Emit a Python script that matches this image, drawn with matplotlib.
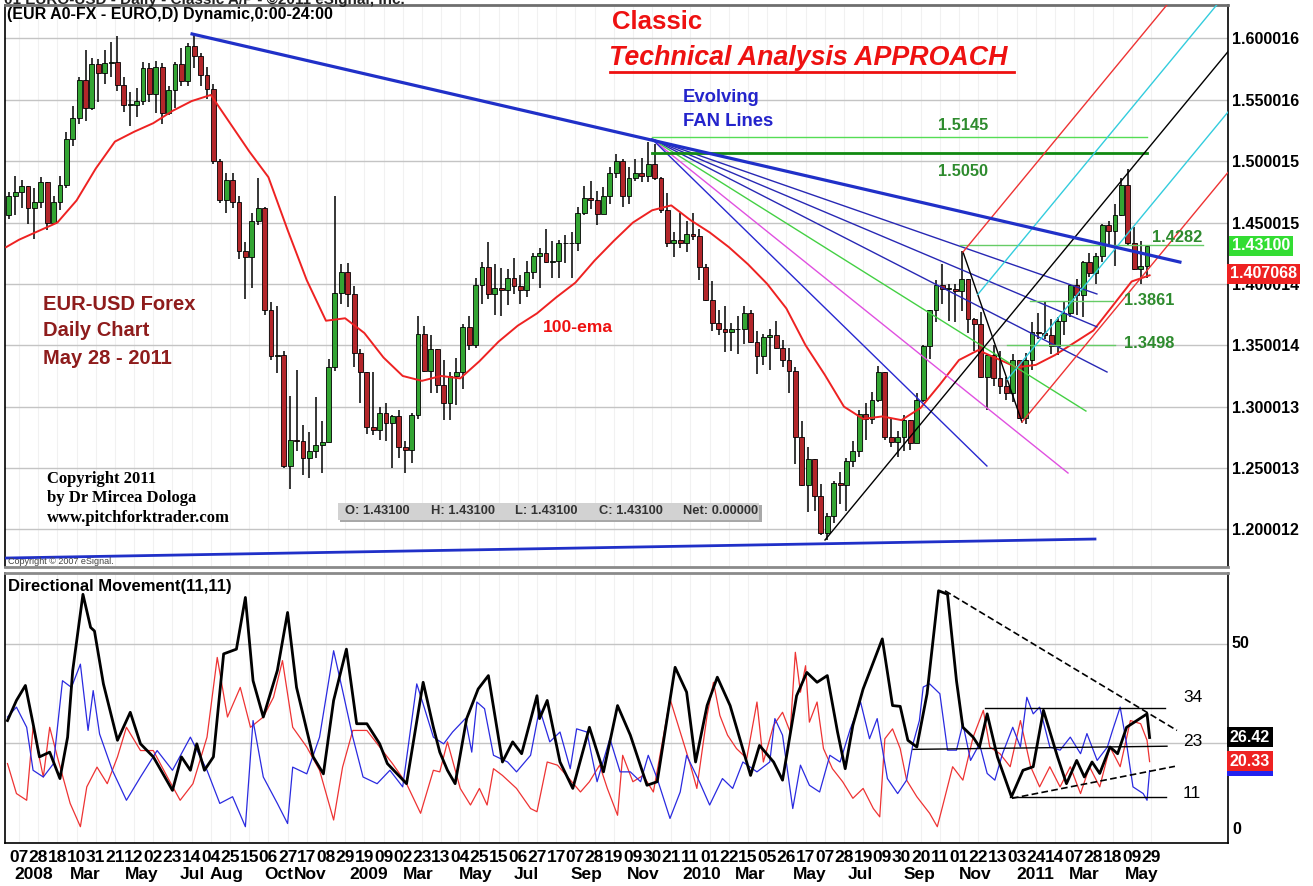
import matplotlib
matplotlib.use("Agg")
import matplotlib.pyplot as plt
import matplotlib.transforms as mtransforms
from matplotlib.patches import Rectangle
from matplotlib.lines import Line2D
import pandas as pd

plt.rcParams['font.family'] = ['Liberation Sans', 'DejaVu Sans']

# ---------------------------------------------------------------- DATA
# weekly EUR/USD bars (week ending Fridays, 28 Dec 2007 ... 27 May 2011)
first_open = 1.4560
week_close = [
    1.4720,
    1.4745, 1.4800, 1.4620, 1.4670, 1.4830, 1.4500, 1.4670, 1.4810, 1.5180,
    1.5350, 1.5660, 1.5430, 1.5790, 1.5720, 1.5800, 1.5810, 1.5620, 1.5460,
    1.5460, 1.5490, 1.5760, 1.5550, 1.5770, 1.5390, 1.5580, 1.5790, 1.5650,
    1.5940, 1.5860, 1.5700, 1.5590, 1.5000, 1.4680, 1.4850, 1.4670, 1.4270,
    1.4220, 1.4510, 1.4620, 1.3790, 1.3410, 1.3420, 1.2520, 1.2730, 1.2720,
    1.2580, 1.2640, 1.2690, 1.2710, 1.3320, 1.3930, 1.4100,
    1.3920, 1.3440, 1.3280, 1.2830, 1.2810, 1.2950, 1.2870, 1.2920, 1.2670,
    1.2650, 1.2930, 1.3590, 1.3290, 1.3470, 1.3180, 1.3030, 1.3250, 1.3280,
    1.3650, 1.3500, 1.3990, 1.4140, 1.3920, 1.3970, 1.3950, 1.4050, 1.3980,
    1.3950, 1.4100, 1.4230, 1.4250, 1.4180, 1.4190, 1.4330, 1.4330, 1.4330,
    1.4580, 1.4700, 1.4680, 1.4570, 1.4720, 1.4900, 1.5000, 1.4720, 1.4860,
    1.4900, 1.4880, 1.4980, 1.4860, 1.4600, 1.4330, 1.4360,
    1.4330, 1.4410, 1.4390, 1.4140, 1.3870, 1.3680, 1.3630, 1.3610, 1.3630,
    1.3630, 1.3760, 1.3530, 1.3410, 1.3570, 1.3580, 1.3480, 1.3380, 1.3290,
    1.2750, 1.2360, 1.2570, 1.2270, 1.1970, 1.2110, 1.2380, 1.2360, 1.2560,
    1.2640, 1.2940, 1.2900, 1.3050, 1.3280, 1.2750, 1.2710, 1.2750, 1.2890,
    1.2700, 1.3050, 1.3490, 1.3790, 1.3990, 1.3960, 1.3960, 1.3940, 1.4040,
    1.3710, 1.3670, 1.3240, 1.3420, 1.3230, 1.3170, 1.3110, 1.3380,
    1.2910, 1.3380, 1.3610, 1.3600, 1.3580, 1.3490, 1.3700, 1.3760, 1.3990,
    1.3910, 1.4180, 1.4090, 1.4230, 1.4480, 1.4430, 1.4560, 1.4810, 1.4330,
    1.4120, 1.4150, 1.4310,
]
week_high = [
    1.4750,
    1.4880, 1.4850, 1.4800, 1.4780, 1.4870, 1.4830, 1.4720, 1.4880, 1.5240,
    1.5450, 1.5690, 1.5904, 1.5840, 1.5830, 1.5910, 1.5970, 1.6019, 1.5690,
    1.5560, 1.5600, 1.5810, 1.5800, 1.5820, 1.5800, 1.5610, 1.5810, 1.5920,
    1.5960, 1.6038, 1.5880, 1.5770, 1.5630, 1.5020, 1.4900, 1.4900, 1.4720,
    1.4340, 1.4580, 1.4867, 1.4630, 1.3850, 1.3820, 1.3450, 1.3090, 1.3296,
    1.2850, 1.2790, 1.3080, 1.2880, 1.3390, 1.4719, 1.4160,
    1.4170, 1.3980, 1.3470, 1.3220, 1.3280, 1.3000, 1.3030, 1.2930, 1.2970,
    1.2720, 1.2950, 1.3738, 1.3660, 1.3580, 1.3470, 1.3380, 1.3280, 1.3400,
    1.3670, 1.3740, 1.4050, 1.4180, 1.4338, 1.4160, 1.4130, 1.4120, 1.4210,
    1.4070, 1.4190, 1.4250, 1.4290, 1.4445, 1.4350, 1.4360, 1.4400, 1.4420,
    1.4630, 1.4800, 1.4840, 1.4760, 1.4790, 1.4950, 1.5061, 1.5020, 1.4950,
    1.5020, 1.5030, 1.5160, 1.5140, 1.4870, 1.4740, 1.4420,
    1.4580, 1.4510, 1.4579, 1.4450, 1.4160, 1.4020, 1.3790, 1.3820, 1.3680,
    1.3740, 1.3820, 1.3790, 1.3620, 1.3590, 1.3630, 1.3694, 1.3540, 1.3480,
    1.3320, 1.2880, 1.2670, 1.2570, 1.2370, 1.2130, 1.2390, 1.2470, 1.2580,
    1.2720, 1.2970, 1.3030, 1.3120, 1.3333, 1.3280, 1.2900, 1.2800, 1.2930,
    1.2800, 1.3110, 1.3500, 1.3790, 1.4030, 1.4160, 1.4000, 1.4000, 1.4270,
    1.4000, 1.3720, 1.3770, 1.3420, 1.3500, 1.3450, 1.3240, 1.3430,
    1.3380, 1.3440, 1.3690, 1.3760, 1.3860, 1.3710, 1.3730, 1.3860, 1.4000,
    1.4040, 1.4190, 1.4250, 1.4250, 1.4490, 1.4510, 1.4650, 1.4860, 1.4940,
    1.4460, 1.4350, 1.4320,
]
week_low = [
    1.4530,
    1.4560, 1.4620, 1.4490, 1.4365, 1.4620, 1.4440, 1.4500, 1.4600, 1.4780,
    1.5120, 1.5300, 1.5330, 1.5420, 1.5480, 1.5630, 1.5690, 1.5570, 1.5400,
    1.5290, 1.5360, 1.5460, 1.5480, 1.5390, 1.5300, 1.5380, 1.5430, 1.5610,
    1.5610, 1.5760, 1.5610, 1.5510, 1.4980, 1.4660, 1.4580, 1.4620, 1.4200,
    1.3880, 1.3970, 1.4480, 1.3750, 1.3380, 1.3270, 1.2500, 1.2330, 1.2640,
    1.2440, 1.2420, 1.2580, 1.2460, 1.2710, 1.3290, 1.3840,
    1.3810, 1.3320, 1.3030, 1.2780, 1.2770, 1.2730, 1.2720, 1.2500, 1.2580,
    1.2457, 1.2540, 1.2900, 1.3280, 1.3110, 1.3110, 1.2890, 1.2890, 1.3010,
    1.3140, 1.3460, 1.3480, 1.3840, 1.3880, 1.3747, 1.3740, 1.3830, 1.3920,
    1.3840, 1.3890, 1.4040, 1.3970, 1.4170, 1.4050, 1.4050, 1.4170, 1.4050,
    1.4270, 1.4560, 1.4610, 1.4483, 1.4580, 1.4650, 1.4860, 1.4630, 1.4650,
    1.4840, 1.4830, 1.4830, 1.4850, 1.4580, 1.4300, 1.4220,
    1.4290, 1.4260, 1.4360, 1.4030, 1.3860, 1.3620, 1.3580, 1.3444, 1.3450,
    1.3430, 1.3510, 1.3520, 1.3267, 1.3340, 1.3300, 1.3470, 1.3320, 1.3110,
    1.2530, 1.2350, 1.2140, 1.2150, 1.1950, 1.1910, 1.2050, 1.2210, 1.2150,
    1.2510, 1.2590, 1.2730, 1.2860, 1.3040, 1.2730, 1.2670, 1.2588, 1.2640,
    1.2650, 1.2700, 1.3040, 1.3390, 1.3690, 1.3840, 1.3700, 1.3690, 1.3780,
    1.3600, 1.3450, 1.3230, 1.2969, 1.3170, 1.3100, 1.3050, 1.3040,
    1.2900, 1.2860, 1.3300, 1.3550, 1.3550, 1.3430, 1.3420, 1.3580, 1.3730,
    1.3750, 1.3730, 1.4060, 1.4000, 1.4180, 1.4300, 1.4150, 1.4550, 1.4310,
    1.4110, 1.4000, 1.4050,
]

# 100-day EMA (day index, value)
ema_day = [-10] + list(range(0, 871, 15)) + [884]
ema_val = [
    1.430, 1.436, 1.443, 1.450, 1.468, 1.494, 1.516, 1.524, 1.531, 1.541,
    1.549, 1.554, 1.531, 1.508, 1.487, 1.444, 1.403, 1.370, 1.372, 1.360,
    1.340, 1.325, 1.321, 1.325, 1.323, 1.337, 1.353, 1.366, 1.376, 1.389,
    1.401, 1.419, 1.435, 1.450, 1.460, 1.464, 1.452, 1.442, 1.430, 1.416,
    1.400, 1.380, 1.350, 1.326, 1.300, 1.290, 1.292, 1.289, 1.299, 1.318,
    1.338, 1.346, 1.339, 1.332, 1.334, 1.342, 1.352, 1.362, 1.382, 1.402,
    1.407,
]

# Directional Movement (11,11): (day index, value)
adx_pts = [(-9, 30.7), (-2, 35.8), (5, 39.6), (11, 29.9), (16, 21.5), (24, 22.7), (32, 16.0),
           (38, 26.5), (42, 43.4), (50, 62.7), (56, 54.3), (59, 53.4), (66, 40.0), (77, 25.7),
           (87, 32.8), (95, 24.8), (105, 21.5), (120, 13.0), (127, 21.5), (134, 18.1), (139, 24.8),
           (145, 18.1), (152, 21.5), (160, 47.6), (170, 48.8), (177, 61.9), (183, 40.8), (191, 31.6),
           (202, 43.4), (210, 58.1), (217, 39.1), (230, 21.5), (238, 17.2), (246, 35.8), (256, 48.8),
           (264, 29.9), (272, 29.9), (282, 24.8), (288, 19.8), (303, 14.7), (316, 40.4), (324, 29.0),
           (329, 22.7), (335, 18.1), (341, 14.7), (350, 31.2), (359, 38.7), (367, 42.1), (378, 20.2),
           (386, 25.3), (393, 22.3), (405, 37.0), (407, 31.2), (413, 35.8), (423, 20.2), (433, 13.5),
           (446, 29.0), (457, 17.7), (468, 34.5), (478, 27.0), (491, 14.3), (499, 15.2), (513, 44.2),
           (522, 37.9), (529, 20.2), (538, 34.5), (546, 41.7), (556, 34.5), (572, 16.8), (579, 24.4),
           (590, 20.2), (597, 15.6), (608, 37.0), (616, 42.9), (624, 40.4), (632, 42.1), (640, 27.8),
           (646, 18.5), (652, 29.5), (660, 38.7), (675, 51.4), (683, 34.5), (689, 34.3), (695, 25.7),
           (702, 24.0), (710, 37.5), (719, 63.6), (726, 62.7), (733, 40.8), (738, 29.0), (746, 26.5),
           (751, 24.0), (757, 32.4), (765, 21.5), (776, 11.4), (785, 18.1), (793, 19.0), (801, 33.3),
           (812, 21.5), (819, 14.7), (827, 20.6), (833, 16.4), (839, 20.2), (845, 17.3), (853, 24.0),
           (859, 22.3), (866, 29.0), (874, 30.7), (882, 32.4), (884, 26.4)]
pdi_pts = [(-9, 31.6), (-2, 34.1), (6, 29.0), (11, 18.1), (19, 16.4), (27, 19.8), (34, 40.8), (41, 39.1),
           (48, 45.0), (54, 28.2), (58, 38.3), (63, 27.3), (73, 18.1), (84, 10.5), (95, 16.4), (108, 23.1),
           (120, 18.1), (134, 26.5), (147, 18.1), (157, 9.7), (167, 11.4), (177, 3.8), (183, 30.7),
           (191, 16.4), (202, 9.7), (210, 4.6), (214, 18.9), (225, 17.2), (235, 26.5), (246, 48.4),
           (253, 38.3), (261, 26.5), (269, 16.4), (280, 14.7), (290, 18.1), (300, 13.9), (311, 40.0),
           (316, 34.9), (324, 26.5), (332, 24.8), (339, 27.8), (349, 31.2), (354, 22.7), (358, 35.4),
           (364, 33.7), (371, 21.9), (382, 20.2), (389, 17.7), (400, 21.9), (407, 33.7), (415, 25.3),
           (423, 27.8), (431, 18.5), (436, 28.6), (444, 27.8), (452, 15.2), (462, 26.1), (470, 17.7),
           (478, 17.7), (486, 15.2), (492, 21.9), (499, 16.0), (509, 5.9), (517, 12.6), (522, 21.9),
           (532, 15.2), (540, 9.3), (550, 16.0), (558, 13.5), (566, 20.2), (577, 17.7), (587, 20.2),
           (591, 31.2), (597, 27.0), (605, 8.4), (611, 19.4), (618, 14.3), (626, 12.6), (634, 21.9),
           (642, 20.2), (650, 28.6), (658, 35.4), (665, 26.1), (671, 31.2), (679, 16.0), (687, 12.2),
           (694, 15.6), (699, 24.8), (704, 30.7), (707, 39.2), (712, 40.0), (720, 37.5), (726, 23.2),
           (733, 23.2), (738, 29.9), (744, 20.6), (751, 24.8), (757, 17.3), (763, 15.6), (769, 22.3),
           (777, 29.0), (783, 24.0), (788, 36.6), (793, 32.4), (798, 34.1), (806, 24.0), (814, 23.2),
           (822, 26.5), (830, 22.3), (835, 27.4), (843, 20.6), (851, 24.0), (855, 28.2), (861, 34.1),
           (866, 24.8), (871, 13.9), (879, 12.2), (882, 10.5), (884, 18.0)]
mdi_pts = [(-9, 19.8), (-2, 12.2), (6, 10.5), (11, 29.0), (19, 16.4), (24, 29.0), (30, 21.5), (40, 9.7),
           (48, 3.8), (53, 13.9), (61, 18.9), (69, 14.7), (77, 21.5), (84, 29.0), (95, 23.1), (105, 23.1),
           (116, 16.4), (126, 10.5), (136, 14.7), (147, 26.5), (155, 46.7), (163, 31.6), (173, 39.1),
           (181, 29.0), (191, 31.6), (199, 36.6), (206, 45.9), (214, 29.0), (225, 24.0), (235, 18.1),
           (246, 5.5), (253, 18.9), (261, 28.2), (272, 28.2), (282, 24.0), (292, 19.8), (303, 14.7),
           (314, 7.2), (324, 18.1), (329, 17.7), (335, 25.3), (345, 13.5), (353, 9.3), (360, 13.5),
           (366, 9.3), (371, 18.5), (378, 16.8), (389, 13.5), (400, 8.4), (405, 7.6), (413, 20.2),
           (421, 19.4), (428, 16.8), (439, 12.6), (446, 15.2), (454, 19.4), (460, 13.5), (468, 6.7),
           (472, 21.9), (480, 15.2), (488, 16.8), (496, 12.6), (504, 27.0), (509, 36.2), (517, 27.8),
           (525, 19.4), (530, 13.5), (538, 32.0), (543, 40.4), (548, 32.0), (554, 27.0), (561, 23.6),
           (569, 21.1), (577, 35.4), (582, 20.2), (590, 29.5), (597, 32.8), (603, 27.8), (607, 48.0),
           (611, 37.9), (615, 44.6), (618, 30.3), (624, 35.4), (629, 23.6), (636, 18.5), (644, 15.2),
           (652, 11.0), (660, 13.5), (668, 8.4), (673, 6.3), (677, 26.1), (683, 28.6), (689, 23.6),
           (694, 15.6), (702, 11.4), (712, 7.2), (718, 3.8), (722, 8.8), (730, 19.0), (738, 15.6),
           (746, 26.5), (754, 33.3), (759, 24.0), (767, 22.3), (775, 19.0), (783, 30.7), (791, 19.0),
           (798, 13.9), (806, 19.0), (814, 13.9), (822, 19.0), (830, 12.2), (837, 19.0), (845, 13.9),
           (853, 24.0), (861, 19.0), (869, 30.7), (877, 29.9), (882, 25.7), (884, 20.3)]

price_ticks = [1.600016, 1.550016, 1.500015, 1.450015, 1.400014, 1.350014, 1.300013, 1.250013, 1.200012]
price_tick_labels = ["1.600016", "1.550016", "1.500015", "1.450015", "1.400014",
                     "1.350014", "1.300013", "1.250013", "1.200012"]
day_labels = ["07", "28", "18", "10", "31", "21", "12", "02", "23", "14", "04", "25", "15", "06", "27",
              "17", "08", "29", "19", "09", "02", "23", "13", "04", "25", "15", "06", "27", "17", "07",
              "28", "19", "09", "30", "21", "11", "01", "22", "15", "05", "26", "17", "07", "28", "19",
              "09", "30", "20", "11", "01", "22", "13", "03", "24", "14", "07", "28", "18", "09", "29"]
month_labels = ["2008", "Mar", "May", "Jul", "Aug", "Oct", "Nov", "2009", "Mar", "May", "Jul", "Sep",
                "Nov", "2010", "Mar", "May", "Jul", "Sep", "Nov", "2011", "Mar", "May"]
month_starts = ["2008-01", "2008-03", "2008-05", "2008-07", "2008-08", "2008-10", "2008-11",
                "2009-01", "2009-03", "2009-05", "2009-07", "2009-09", "2009-11",
                "2010-01", "2010-03", "2010-05", "2010-07", "2010-09", "2010-11",
                "2011-01", "2011-03", "2011-05"]

# drawn analysis lines: anchors as (day index, price)
trend_top = [(135.3, 1.6037), (907.7, 1.4178)]
trend_bottom = [(-11.0, 1.1766), (841.3, 1.1921)]
fan_origin = (494.9, 1.5181)
fan_ends = [(842.8, 1.3918), (842.8, 1.3650), (850.7, 1.3282),
            (834.2, 1.2964), (820.2, 1.2459), (756.8, 1.2516)]
pf_A = (630.2, 1.1913)
pf_B = (738.1, 1.4260)
pf_C = (784.2, 1.2874)
level_lines = [(494.9, 881.8, 1.5200), (494.9, 881.8, 1.5064),
               (735.7, 925.7, 1.4317), (790.5, 855.4, 1.3863), (772.5, 857.0, 1.3502)]
level_texts = ["1.5145", "1.5050", "1.4282", "1.3861", "1.3498"]

# lines drawn in the DMI pane (day index, value)
dmi_resist = [(724.0, 63.6), (905.4, 28.2)]
dmi_support = [(776.4, 11.0), (903.8, 19.1)]
dmi_levels = [((755.3, 33.8), (896.0, 33.8)), ((699.0, 23.4), (897.6, 24.2)),
              ((774.8, 11.3), (896.8, 11.3))]

last_close = "1.43100"
last_ema = "1.407068"
last_adx = "26.42"
last_mdi = "20.33"

# ---------------------------------------------------------------- LAYOUT
W, H = 1313, 886
fig = plt.figure(figsize=(W / 100, H / 100), dpi=100)
fig.patch.set_facecolor('white')
L, R = 5, 1228
ax = fig.add_axes([L / W, 1 - 567 / H, (R - L) / W, (567 - 5) / H])
ax2 = fig.add_axes([L / W, 1 - 843 / H, (R - L) / W, (843 - 573) / H])
XMIN, XMAX = -10.95, 945.3
for a in (ax, ax2):
    a.set_xlim(XMIN, XMAX)
    a.set_facecolor('white')
ax.set_ylim(1.1693, 1.6273)
ax2.set_ylim(-0.33, 68.1)


def ftext(px, py, s, **kw):
    kw.setdefault('va', 'center')
    return fig.text(px / W, 1 - py / H, s, **kw)


# spines
for a in (ax, ax2):
    a.spines['left'].set_color('black')
    a.spines['right'].set_color('black')
    a.spines['left'].set_linewidth(1.2)
    a.spines['right'].set_linewidth(1.2)
ax.spines['top'].set_color('#6e6e6e'); ax.spines['top'].set_linewidth(2)
ax.spines['bottom'].set_color('#8a8a8a'); ax.spines['bottom'].set_linewidth(2)
ax2.spines['top'].set_color('#8a8a8a'); ax2.spines['top'].set_linewidth(2)
ax2.spines['bottom'].set_color('black'); ax2.spines['bottom'].set_linewidth(1.2)

# grids
tick_days = [15 * k for k in range(len(day_labels))]
for d in tick_days:
    ax.axvline(d, color='#f1f1f1', lw=0.8, zorder=0)
    ax2.axvline(d, color='#f1f1f1', lw=0.8, zorder=0)
for p in price_ticks:
    ax.axhline(p, color='#c4c4c4', lw=1.0, zorder=1)
for v in (50, 25):
    ax2.axhline(v, color='#c4c4c4', lw=1.0, zorder=1)

# price axis
ax.yaxis.tick_right()
ax.set_yticks(price_ticks)
ax.set_yticklabels(price_tick_labels)
ax.tick_params(axis='y', length=0, pad=3, labelsize=11.5)
for t in ax.get_yticklabels():
    t.set_fontweight('bold')
ax.set_xticks([])
ax2.set_yticks([])

# date axis
ax2.set_xticks(tick_days)
ax2.set_xticklabels(day_labels)
ax2.tick_params(axis='x', length=0, pad=5, labelsize=12.5)
for t in ax2.get_xticklabels():
    t.set_fontweight('bold')
bdays = pd.bdate_range('2007-12-24', '2011-07-29')
day_index = {d: i - 10 for i, d in enumerate(bdays)}
trans2 = mtransforms.blended_transform_factory(ax2.transData, ax2.transAxes)
for lab, ms in zip(month_labels, month_starts):
    first = bdays[bdays >= pd.Timestamp(ms + '-01')][0]
    ax2.text(day_index[first], -0.118, lab, transform=trans2, ha='left', va='center',
             fontsize=12.5, fontweight='bold')

# ---------------------------------------------------------------- CANDLES
up_col, dn_col = '#33a533', '#b3262a'
opens = [first_open] + week_close[:-1]
for w, c in enumerate(week_close):
    o = opens[w]
    hi = max(week_high[w], o, c)
    lo = min(week_low[w], o, c)
    x = 5 * w - 8
    ax.vlines(x, lo, hi, color='black', lw=1.1, zorder=3)
    ax.add_patch(Rectangle((x - 1.9, min(o, c)), 3.8, max(abs(c - o), 0.0006),
                           fc=up_col if c >= o else dn_col, ec='black', lw=0.6, zorder=4))

ax.plot(ema_day, ema_val, color='#ee2222', lw=1.4, zorder=5)

# ---------------------------------------------------------------- ANALYSIS LINES
ax.plot(*zip(*trend_top), color='#2030c8', lw=2.3, zorder=7)
ax.plot(*zip(*trend_bottom), color='#2030c8', lw=2.0, zorder=7)
fan_colors = ['#2828b4', '#2828b4', '#2828b4', '#44d044', '#e050e0', '#2828d0']
for (ex, ey), col in zip(fan_ends, fan_colors):
    ax.plot([fan_origin[0], ex], [fan_origin[1], ey], color=col, lw=1.0, zorder=6)

for (x0, x1, yv), lw, col in zip(level_lines, [1.0, 2.0, 1.0, 1.0, 1.0],
                                 ['#55dd55', '#118a11', '#66cc66', '#66cc66', '#66cc66']):
    ax.plot([x0, x1], [yv, yv], color=col, lw=lw, zorder=6)

# Andrews pitchfork
mx, my = (pf_B[0] + pf_C[0]) / 2, (pf_B[1] + pf_C[1]) / 2
slope = (my - pf_A[1]) / (mx - pf_A[0])
xe = XMAX + 60


def ray(p, col, lw=1.0):
    ax.plot([p[0], xe], [p[1], p[1] + slope * (xe - p[0])], color=col, lw=lw, zorder=6)


ray(pf_A, 'black')
ax.plot([pf_B[0], pf_C[0]], [pf_B[1], pf_C[1]], color='black', lw=1.0, zorder=6)
ray(pf_B, '#ee3333')
ray(pf_C, '#ee3333')
q1 = (pf_B[0] + 0.25 * (pf_C[0] - pf_B[0]), pf_B[1] + 0.25 * (pf_C[1] - pf_B[1]))
q3 = (pf_B[0] + 0.75 * (pf_C[0] - pf_B[0]), pf_B[1] + 0.75 * (pf_C[1] - pf_B[1]))
ray(q1, '#33ccdd')
ray(q3, '#33ccdd')

# ---------------------------------------------------------------- DMI
ax2.plot(*zip(*mdi_pts), color='#ee3333', lw=0.9, zorder=3)
ax2.plot(*zip(*pdi_pts), color='#2a2ae0', lw=0.9, zorder=3)
ax2.plot(*zip(*adx_pts), color='black', lw=2.0, zorder=4)
ax2.plot(*zip(*dmi_resist), color='black', lw=1.2, ls=(0, (4, 2)), zorder=5)
ax2.plot(*zip(*dmi_support), color='black', lw=1.2, ls=(0, (4, 2)), zorder=5)
for p0, p1 in dmi_levels:
    ax2.plot([p0[0], p1[0]], [p0[1], p1[1]], color='black', lw=1.0, zorder=5)

# ---------------------------------------------------------------- TEXTS
ftext(4, 0, "01 EURO-USD - Daily - Classic A/P - \u00a92011 eSignal, Inc.", fontsize=11,
      fontweight='bold', color='#222222')
ftext(7, 15, "(EUR A0-FX - EURO,D) Dynamic,0:00-24:00", fontsize=11.5, fontweight='bold')
ftext(612, 22, "Classic", fontsize=18.5, fontweight='bold', color='#ee1111')
ftext(609, 58, "Technical Analysis APPROACH", fontsize=19.3, fontweight='bold', style='italic',
      color='#ee1111')
fig.add_artist(Line2D([610 / W, 1014 / W], [1 - 72 / H, 1 - 72 / H], color='#ee1111', lw=2))
ftext(683, 98, "Evolving", fontsize=13.3, fontweight='bold', color='#2424cc')
ftext(683, 121, "FAN Lines", fontsize=13.3, fontweight='bold', color='#2424cc')
for s, (px, py) in zip(level_texts, [(938, 125), (938, 171), (1152, 237), (1124, 300), (1124, 344)]):
    ftext(px, py, s, fontsize=11.8, fontweight='bold', color='#2e8b2e')
for i, s in enumerate(["EUR-USD Forex", "Daily Chart", "May 28 - 2011"]):
    ftext(43, 304 + 27 * i, s, fontsize=14.5, fontweight='bold', color='#8e1c1c')
ftext(543, 327, "100-ema", fontsize=12.6, fontweight='bold', color='#ee1111')
for i, s in enumerate(["Copyright 2011", "by Dr Mircea Dologa", "www.pitchforktrader.com"]):
    ftext(47, 479 + 19.5 * i, s, fontsize=12, fontweight='bold', family='Liberation Serif')
ftext(8, 561, "Copyright \u00a9 2007 eSignal.", fontsize=6.5, color='#444444')
ftext(8, 587, "Directional Movement(11,11)", fontsize=12, fontweight='bold')

# OHLC box
fig.add_artist(Rectangle((340 / W, 1 - 522 / H), 422 / W, 17 / H, transform=fig.transFigure,
                         fc='#a8a8a8', ec='none', zorder=2))
fig.add_artist(Rectangle((338 / W, 1 - 520 / H), 421 / W, 17 / H, transform=fig.transFigure,
                         fc='#d2d2d2', ec='none', zorder=2.1))
for s, px in zip(["O: 1.43100", "H: 1.43100", "L: 1.43100", "C: 1.43100", "Net: 0.00000"],
                 [345, 431, 515, 599, 683]):
    ftext(px, 511.5, s, fontsize=9.3, fontweight='bold', color='#333333', zorder=3)

# DMI right side labels
for s, py in zip(["34", "23", "11"], [698, 741, 793]):
    ftext(1183, py, s, fontsize=12.5, color='black')
ftext(1232, 643, "50", fontsize=11.5, fontweight='bold')
ftext(1232, 830, "0", fontsize=11.5, fontweight='bold')

# current-value boxes
ftext(1232, 246, last_close, fontsize=11.5, fontweight='bold', color='white',
      bbox=dict(fc='#33dd33', ec='none', pad=1.8))
ftext(1230, 274, last_ema, fontsize=11.5, fontweight='bold', color='white',
      bbox=dict(fc='#ee2222', ec='none', pad=1.8))
ftext(1230, 766, last_mdi, fontsize=11.5, fontweight='bold', color='#2222ee',
      bbox=dict(fc='#2222ee', ec='none', pad=1.8))
ftext(1230, 737, last_adx, fontsize=11.5, fontweight='bold', color='white',
      bbox=dict(fc='black', ec='none', pad=1.8))
ftext(1230, 761, last_mdi, fontsize=11.5, fontweight='bold', color='white',
      bbox=dict(fc='#ee2222', ec='none', pad=1.8))

fig.savefig("out.png", dpi=100)
